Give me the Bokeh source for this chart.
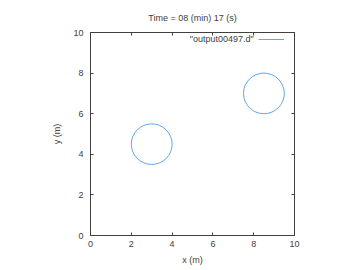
from bokeh.plotting import figure
from bokeh.models import (Range1d, LinearAxis, Label, Legend, LegendItem, FixedTicker,
                          CustomJSTickFormatter)
from bokeh.embed import file_html
from bokeh.resources import INLINE

# data
cx = [3.0, 8.5]
cy = [4.5, 7.0]
radius = [1.0, 1.0]
xticks = [0, 2, 4, 6, 8, 10]
yticks = [0, 2, 4, 6, 8, 10]
title_text = "Time = 08 (min) 17 (s)"
series_name = '"output00497.d"'

FONT = "Liberation Sans"
TXT = "#404040"
LINE = "#60a6e8"

p = figure(width=360, height=270, output_backend="svg", toolbar_location=None,
           x_range=Range1d(0, 10), y_range=Range1d(0, 10),
           min_border_left=90, min_border_right=66, min_border_top=32, min_border_bottom=35,
           x_axis_label="x (m)", y_axis_label="y (m)")
p.background_fill_color = "white"
p.border_fill_color = "white"
p.grid.visible = False
p.outline_line_color = "#404040"
p.outline_line_width = 1

p.title.text = title_text
p.title.align = "center"
p.title.text_font = FONT
p.title.text_font_size = "9px"
p.title.text_font_style = "normal"
p.title.text_color = TXT
p.title.standoff = 20

d = [2 * r for r in radius]
p.ellipse(x=cx, y=cy, width=d, height=d, fill_alpha=0, line_color=LINE, line_width=1)
# legend proxy (draws nothing in the plot)
nan = float("nan")
proxy = p.line(x=[nan, nan], y=[nan, nan], line_color=LINE, line_width=1)

for ax, ticks in ((p.xaxis[0], xticks), (p.yaxis[0], yticks)):
    ax.ticker = FixedTicker(ticks=ticks)
    ax.major_tick_in = 3
    ax.major_tick_out = 0
    ax.minor_tick_in = 0
    ax.minor_tick_out = 0
    ax.axis_line_color = "#404040"
    ax.major_tick_line_color = "#404040"
    ax.major_label_text_font = FONT
    ax.major_label_text_font_size = "9px"
    ax.major_label_text_color = TXT
    ax.axis_label_text_font = FONT
    ax.axis_label_text_font_size = "9px"
    ax.axis_label_text_font_style = "normal"
    ax.axis_label_text_color = TXT
p.xaxis[0].major_label_standoff = 5
p.xaxis[0].axis_label_standoff = 5
p.yaxis[0].major_label_standoff = 7
p.yaxis[0].axis_label_standoff = 8

top = LinearAxis(ticker=FixedTicker(ticks=xticks))
right = LinearAxis(ticker=FixedTicker(ticks=yticks))
for ax in (top, right):
    ax.major_tick_in = 3
    ax.major_tick_out = 0
    ax.minor_tick_in = 0
    ax.minor_tick_out = 0
    ax.formatter = CustomJSTickFormatter(code="return ''")
    ax.major_label_standoff = 0
    ax.axis_line_color = "#404040"
    ax.major_tick_line_color = "#404040"
p.add_layout(top, "above")
p.add_layout(right, "right")

legend = Legend(items=[LegendItem(label=" ", renderers=[proxy], index=0)],
                location=(168, 190),
                glyph_width=26, glyph_height=12, label_width=1, label_standoff=0,
                padding=0, margin=0, spacing=0, border_line_alpha=0,
                background_fill_alpha=0, label_text_font_size="9px")
p.add_layout(legend)

p.add_layout(Label(x=8.0, y=9.7, text=series_name, text_align="right", text_baseline="middle",
                   text_font=FONT, text_font_size="9px", text_color=TXT))

open("out.html", "w").write(file_html(p, INLINE))
